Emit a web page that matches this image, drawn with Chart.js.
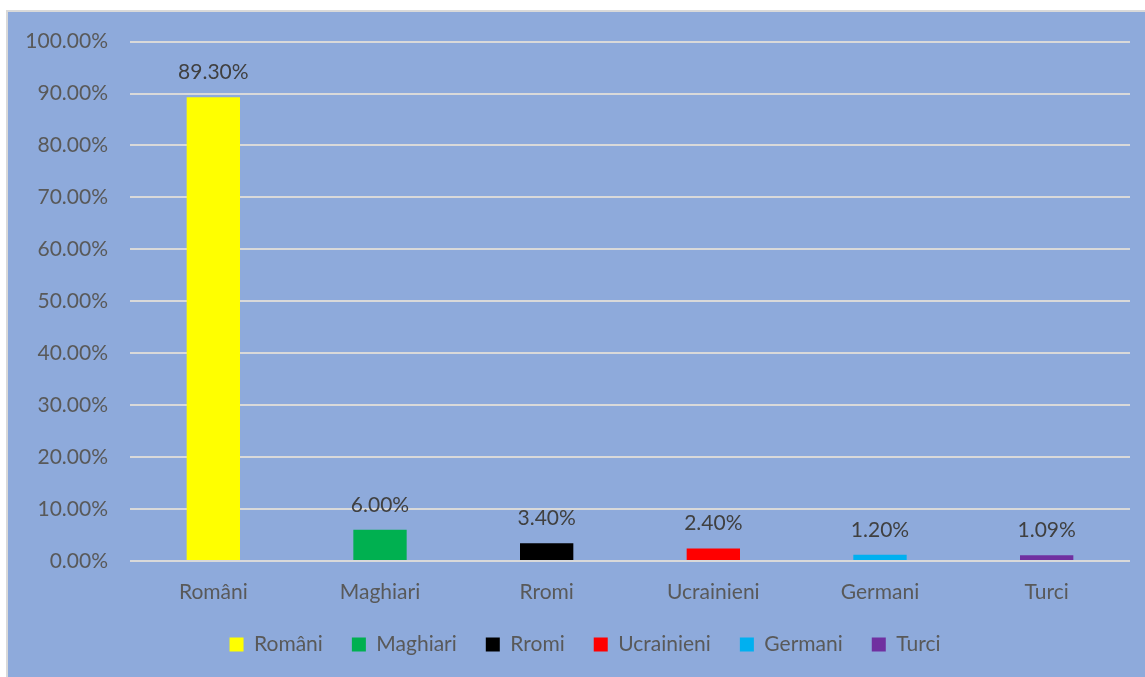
<!DOCTYPE html>
<html>
<head>
<meta charset="utf-8">
<script src="https://cdn.jsdelivr.net/npm/chart.js@4/dist/chart.umd.min.js"></script>
<style>
  html, body { margin: 0; padding: 0; background: #ffffff; }
  #box {
    position: absolute; left: 6px; top: 10px;
    width: 1137px; height: 665px;
    border-left: 2px solid #d9d9d9; border-top: 2px solid #d9d9d9;
    background: #8eaadb;
    overflow: hidden;
  }
  #wrap { position: absolute; left: 0; top: -5px; width: 1137px; height: 670px; }
</style>
</head>
<body>
<div id="box"><div id="wrap"><canvas id="chart"></canvas></div></div>
<script>
const categories = ["Români", "Maghiari", "Rromi", "Ucrainieni", "Germani", "Turci"];
const shares = [89.30, 6.00, 3.40, 2.40, 1.20, 1.09];
const barColors = ["#ffff00", "#00b050", "#000000", "#ff0000", "#00b0f0", "#7030a0"];
const yTicks = [0, 10, 20, 30, 40, 50, 60, 70, 80, 90, 100];

const FONT = "Lato, 'Open Sans', sans-serif";

// etichete deasupra barelor
const barLabels = {
  id: "barLabels",
  afterDatasetsDraw(chart) {
    const ctx = chart.ctx;
    const meta = chart.getDatasetMeta(0);
    ctx.save();
    ctx.font = "21px " + FONT;
    ctx.fillStyle = "#404040";
    ctx.textAlign = "center";
    ctx.textBaseline = "middle";
    meta.data.forEach((bar, i) => {
      ctx.fillText(shares[i].toFixed(2) + "%", bar.x, bar.y - 25);
    });
    ctx.restore();
  }
};

// legenda usor deplasata spre dreapta
const legendShift = {
  id: "legendShift",
  afterLayout(chart) {
    chart.legend.left += 16;
    chart.legend.right += 16;
  }
};

const ctx = document.getElementById("chart").getContext("2d");
new Chart(ctx, {
  type: "bar",
  data: {
    labels: categories,
    datasets: [{
      label: "Pondere",
      data: shares,
      backgroundColor: barColors,
      borderWidth: 0,
      categoryPercentage: 1,
      barPercentage: 0.32,
    }],
  },
  options: {
    responsive: true,
    maintainAspectRatio: false,
    animation: false,
    layout: { padding: { top: 0, right: 15, left: 0, bottom: 12 } },
    scales: {
      x: {
        grid: { display: false, drawTicks: false },
        border: { display: false },
        ticks: { color: "#595959", font: { family: FONT, size: 21 }, padding: 19 },
        afterFit(scale) { scale.height = 44; },
      },
      y: {
        min: 0,
        max: 100,
        afterBuildTicks(scale) { scale.ticks = yTicks.map(v => ({ value: v })); },
        grid: { color: "#d9d9d9", lineWidth: 2, drawTicks: false },
        border: { display: false },
        ticks: {
          color: "#595959",
          font: { family: FONT, size: 21 },
          padding: 22,
          callback: v => v.toFixed(2) + "%",
        },
        afterFit(scale) { scale.width = 122; },
      },
    },
    plugins: {
      tooltip: { enabled: false },
      legend: {
        position: "bottom",
        labels: {
          color: "#595959",
          font: { family: FONT, size: 21 },
          boxWidth: 14,
          boxHeight: 14,
          padding: 29,
          generateLabels(chart) {
            return categories.map((name, i) => ({
              text: name,
              fillStyle: barColors[i],
              strokeStyle: barColors[i],
              fontColor: "#595959",
              lineWidth: 0,
              index: i,
            }));
          },
        },
      },
    },
  },
  plugins: [barLabels, legendShift],
});
</script>
</body>
</html>
